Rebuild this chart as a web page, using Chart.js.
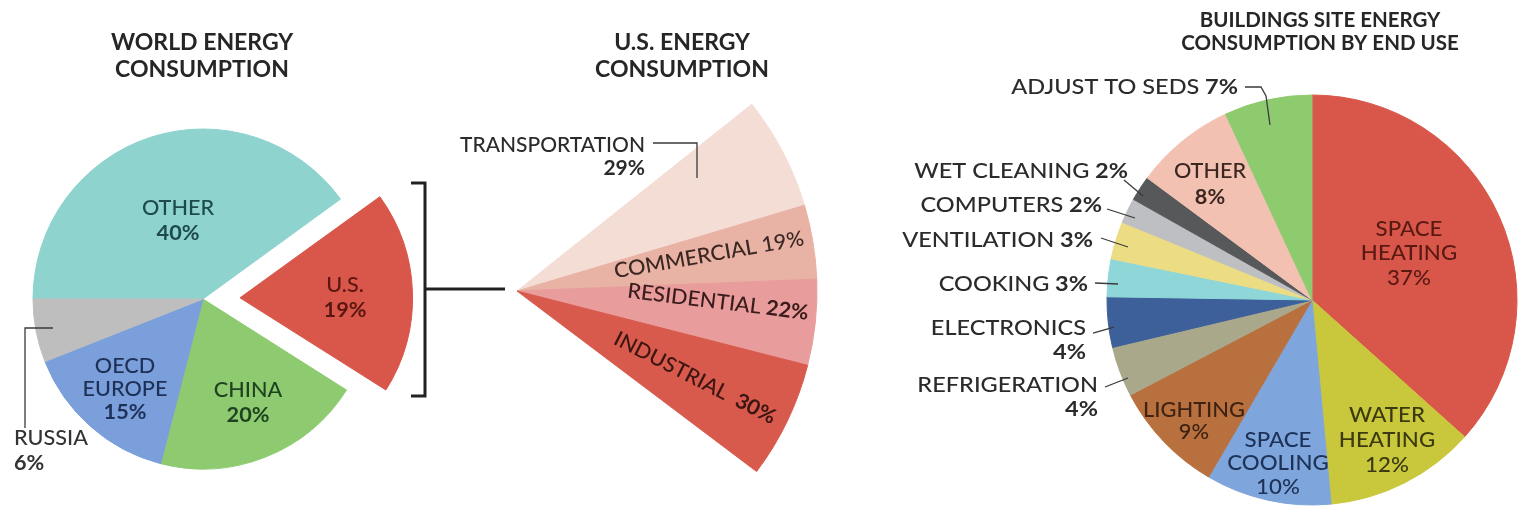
<!DOCTYPE html>
<html>
<head>
<meta charset="utf-8">
<title>Energy consumption</title>
<script src="https://cdn.jsdelivr.net/npm/chart.js@4.4.1/dist/chart.umd.min.js"></script>
<style>
  html, body { margin: 0; padding: 0; background: #fff; }
  #wrap { position: relative; width: 1520px; height: 509px; }
  #wrap canvas { position: absolute; left: 0; top: 0; }
</style>
</head>
<body>
<div id="wrap">
  <canvas id="world" width="1520" height="509"></canvas>
  <canvas id="us" width="1520" height="509"></canvas>
  <canvas id="buildings" width="1520" height="509"></canvas>
</div>
<script>
const W = 1520, H = 509;

// world energy consumption, clockwise from 9 o'clock
const worldLabels = ['OTHER', 'U.S.', 'CHINA', 'OECD EUROPE', 'RUSSIA'];
const worldShares = [40, 19, 20, 15, 6];
const worldColors = ['#8fd3cf', '#d9574a', '#8ecb70', '#7b9fda', '#bebebe'];
const worldTitle = ['WORLD ENERGY', 'CONSUMPTION'];

// U.S. share split by sector
const usLabels = ['TRANSPORTATION', 'COMMERCIAL', 'RESIDENTIAL', 'INDUSTRIAL'];
const usShares = [29, 19, 22, 30];
const usColors = ['#f4ddd5', '#e8b2a4', '#e89c9b', '#d85a4c'];
const usTitle = ['U.S. ENERGY', 'CONSUMPTION'];

// buildings site energy by end use, clockwise from 12 o'clock
const useLabels = ['SPACE HEATING', 'WATER HEATING', 'SPACE COOLING', 'LIGHTING', 'REFRIGERATION',
  'ELECTRONICS', 'COOKING', 'VENTILATION', 'COMPUTERS', 'WET CLEANING', 'OTHER', 'ADJUST TO SEDS'];
const useShares = [37, 12, 10, 9, 4, 4, 3, 3, 2, 2, 8, 7];
const useColors = ['#d9574a', '#c9c83c', '#7ea6dc', '#b9703f', '#a9a88b', '#3d5f9a',
  '#8ed6d8', '#ecdc84', '#bdbfc3', '#56585a', '#f2c1b1', '#8ecb6f'];
const useTitle = ['BUILDINGS SITE ENERGY', 'CONSUMPTION BY END USE'];

// pie placement (page pixels)
const worldGeo = { cx: 203, cy: 299, r: 170, rotation: -90, sweep: 360, pull: 37 };
const usGeo = { cx: 517, cy: 291, r: 300, rotation: 51.5, sweep: 75.5 };
const useGeo = { cx: 1312, cy: 300, r: 205, rotation: 0, sweep: 360 };

// label placement, one entry per slice
const worldText = [
  { x: 178, y: 208, color: '#1e4a4c', size: 21, lh: 25 },
  { x: 345, y: 285, color: '#5b1611', size: 21, lh: 25 },
  { x: 248, y: 390, color: '#1f4320', size: 21, lh: 25 },
  { x: 125, y: 366, color: '#1d3158', size: 21, lh: 23, split: true },
  { x: 14, y: 438, color: '#333', size: 21, lh: 25, align: 'left', leader: [[25, 428], [25, 328], [53, 328]] }
];
const usText = [
  { x: 645, y: 145, color: '#2b2b2b', size: 21, lh: 23, align: 'right', stretch: 1, leader: [[653, 143], [697, 143], [697, 178]] },
  { x: 709, y: 255, rot: -10, color: '#3a2622', size: 21, inline: true, valueWeight: 500 },
  { x: 718, y: 302, rot: 7, color: '#3a1c1c', size: 21, inline: true },
  { x: 695, y: 378, rot: 27, color: '#3a1512', size: 21, inline: true, gap: '  ' }
];
const sideLabel = { align: 'right', color: '#2b2b2b', size: 21, lh: 24, stretch: 1.12 };
const useText = [
  { x: 1409, y: 229, split: true, color: '#5a1a13', size: 21, lh: 24.5, valueWeight: 500, stretch: 1.06 },
  { x: 1387, y: 415, split: true, color: '#3c3a10', size: 21, lh: 25, valueWeight: 500, stretch: 1.06 },
  { x: 1278, y: 440, split: true, color: '#1e3157', size: 21, lh: 23.5, valueWeight: 500, stretch: 1.06 },
  { x: 1194, y: 410, color: '#3e2312', size: 21, lh: 22, valueWeight: 500, stretch: 1.04 },
  { ...sideLabel, x: 1098, y: 385, leader: [[1105, 387], [1128, 378]] },
  { ...sideLabel, x: 1086, y: 328, leader: [[1093, 333], [1114, 327]] },
  { ...sideLabel, x: 1088, y: 284, inline: true, leader: [[1095, 283], [1118, 284]] },
  { ...sideLabel, x: 1093, y: 240, inline: true, leader: [[1101, 238], [1128, 247]] },
  { ...sideLabel, x: 1102, y: 205, inline: true, leader: [[1107, 209], [1135, 218]] },
  { ...sideLabel, x: 1128, y: 171, inline: true, leader: [[1124, 180], [1143, 196]] },
  { x: 1210, y: 171, color: '#3b2621', size: 21, lh: 26 },
  { ...sideLabel, x: 1238, y: 87, inline: true, leader: [[1245, 87], [1261, 87], [1266, 96], [1270, 125]] }
];

const FAMILY = 'Lato, "Noto Sans", sans-serif';
const font = (weight, size) => `${weight} ${size}px ${FAMILY}`;

// layout padding that puts the (partial) pie's centre at cx, cy
function paddingFor(cx, cy, r, rotation, sweep) {
  let minX = -1, maxX = 1, minY = -1, maxY = 1;
  if (sweep < 360) {
    const TAU = Math.PI * 2;
    const a0 = (rotation - 90) * Math.PI / 180;
    const a1 = a0 + sweep * Math.PI / 180;
    const inside = a => (((a - a0) % TAU) + TAU) % TAU <= a1 - a0;
    const xs = [Math.cos(a0), Math.cos(a1), 0];
    const ys = [Math.sin(a0), Math.sin(a1), 0];
    maxX = inside(0) ? 1 : Math.max(...xs);
    maxY = inside(Math.PI / 2) ? 1 : Math.max(...ys);
    minX = inside(Math.PI) ? -1 : Math.min(...xs);
    minY = inside(-Math.PI / 2) ? -1 : Math.min(...ys);
  }
  return { left: cx + minX * r, right: W - (cx + maxX * r), top: cy + minY * r, bottom: H - (cy + maxY * r) };
}

// one line made of differently weighted pieces, widened by `stretch`
function drawRuns(ctx, runs, x, y, align, size, stretch) {
  const widths = runs.map(([text, weight]) => {
    ctx.font = font(weight, size);
    return ctx.measureText(text).width;
  });
  const total = widths.reduce((a, b) => a + b, 0) * stretch;
  const sx = align === 'right' ? x - total : align === 'center' ? x - total / 2 : x;
  ctx.save();
  ctx.translate(sx, y);
  ctx.scale(stretch, 1);
  ctx.textAlign = 'left';
  ctx.textBaseline = 'middle';
  let px = 0;
  runs.forEach(([text, weight], k) => {
    ctx.font = font(weight, size);
    ctx.fillText(text, px, 0);
    px += widths[k];
  });
  ctx.restore();
}

function drawLabel(ctx, name, value, spec) {
  const pct = value + '%';
  const lines = (spec.split ? name.split(' ') : [name]).map(part => [[part, spec.nameWeight || 500]]);
  if (spec.inline) lines[lines.length - 1].push([(spec.gap || ' ') + pct, spec.valueWeight || 700]);
  else lines.push([[pct, spec.valueWeight || 700]]);

  ctx.save();
  ctx.fillStyle = spec.color;
  let ox = spec.x, oy = spec.y;
  if (spec.rot) {
    ctx.translate(spec.x, spec.y);
    ctx.rotate(spec.rot * Math.PI / 180);
    ox = 0; oy = 0;
  }
  const stretch = spec.stretch || 1.03;
  lines.forEach((runs, k) => drawRuns(ctx, runs, ox, oy + k * (spec.lh || 24), spec.align || 'center', spec.size, stretch));
  ctx.restore();

  if (spec.leader) drawPath(ctx, spec.leader, '#3a3a3a', 1.3);
}

function drawPath(ctx, pts, color, width) {
  ctx.save();
  ctx.strokeStyle = color;
  ctx.lineWidth = width;
  ctx.lineJoin = 'miter';
  ctx.beginPath();
  pts.forEach(([x, y], k) => (k ? ctx.lineTo(x, y) : ctx.moveTo(x, y)));
  ctx.stroke();
  ctx.restore();
}

function drawTitle(ctx, lines, x, y, size, lh) {
  ctx.save();
  ctx.fillStyle = '#262626';
  ctx.font = font(700, size);
  ctx.textAlign = 'center';
  ctx.textBaseline = 'middle';
  lines.forEach((t, k) => ctx.fillText(t, x, y + k * lh));
  ctx.restore();
}

function makePie(id, labels, shares, colors, geo, texts, decorate) {
  return new Chart(document.getElementById(id), {
    type: 'pie',
    data: {
      labels,
      datasets: [{
        data: shares,
        backgroundColor: colors,
        borderColor: colors,
        borderWidth: 1,
        // arc offsets are drawn at a quarter of their value in v4
        offset: shares.map((_, i) => (geo.pull && i === 1 ? geo.pull * 4 : 0)),
        clip: false
      }]
    },
    options: {
      responsive: false,
      animation: false,
      events: [],
      rotation: geo.rotation,
      circumference: geo.sweep,
      radius: geo.r,
      layout: { padding: paddingFor(geo.cx, geo.cy, geo.r, geo.rotation, geo.sweep) },
      plugins: { legend: { display: false }, tooltip: { enabled: false } }
    },
    plugins: [{
      id: id + 'Labels',
      afterDraw(chart) {
        const ctx = chart.ctx;
        texts.forEach((spec, i) => drawLabel(ctx, labels[i], shares[i], spec));
        decorate(ctx);
      }
    }]
  });
}

makePie('world', worldLabels, worldShares, worldColors, worldGeo, worldText, ctx => {
  drawTitle(ctx, worldTitle, 202, 43, 23, 27);
  // bracket tying the U.S. slice to the sector fan
  drawPath(ctx, [[411, 183], [425, 183], [425, 396], [411, 396]], '#222', 3);
  drawPath(ctx, [[425, 289], [505, 289]], '#222', 3);
});

makePie('us', usLabels, usShares, usColors, usGeo, usText, ctx => {
  drawTitle(ctx, usTitle, 682, 43, 23, 27);
});

makePie('buildings', useLabels, useShares, useColors, useGeo, useText, ctx => {
  drawTitle(ctx, useTitle, 1320, 20, 20.5, 23.5);
});
</script>
</body>
</html>
